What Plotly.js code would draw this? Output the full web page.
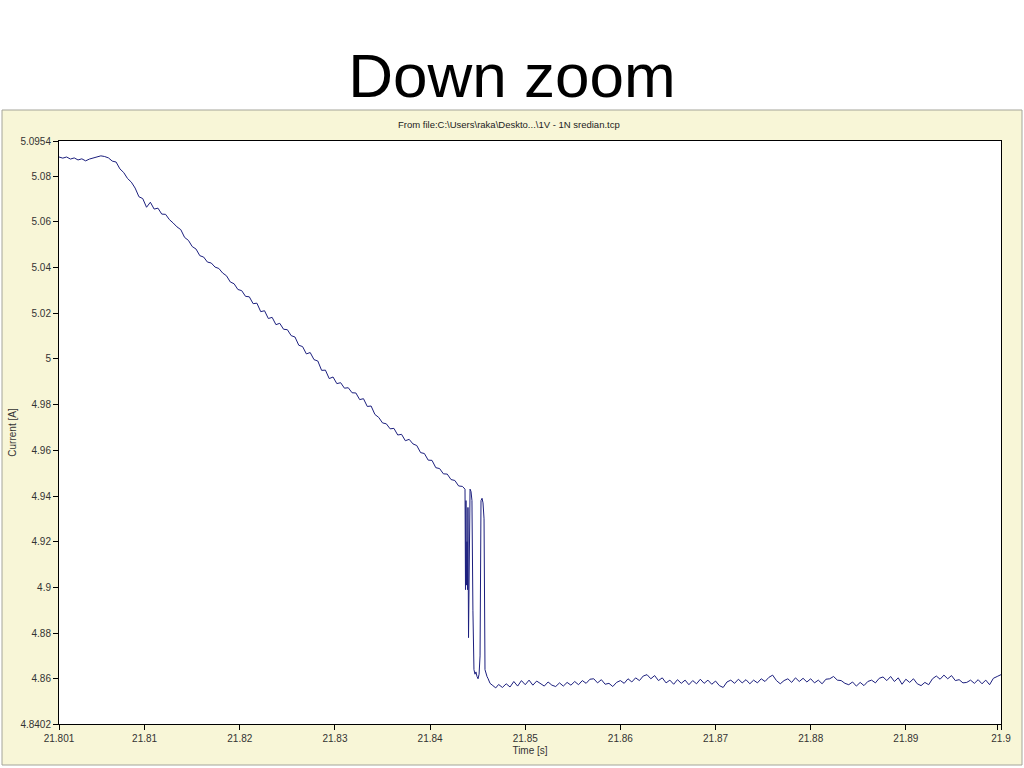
<!DOCTYPE html>
<html>
<head>
<meta charset="utf-8">
<script src="https://cdn.plot.ly/plotly-3.0.1.min.js"></script>
<style>
html,body{margin:0;padding:0;background:#fff;}
#chart{width:1024px;height:768px;}
</style>
</head>
<body>
<div id="chart"></div>
<script>
// ---- Data ----
const chartTitle = "Down zoom";
const sourceLabel = "From file:C:\\Users\\raka\\Deskto...\\1V - 1N sredian.tcp";
const xAxisLabel = "Time [s]";
const yAxisLabel = "Current [A]";

const xTickVals = [21.801, 21.81, 21.82, 21.83, 21.84, 21.85, 21.86, 21.87, 21.88, 21.89, 21.8996, 21.9];
const xTickText = ["21.801", "21.81", "21.82", "21.83", "21.84", "21.85", "21.86", "21.87", "21.88", "21.89", "", "21.9"];
const yTickVals = [4.8402, 4.86, 4.88, 4.9, 4.92, 4.94, 4.96, 4.98, 5, 5.02, 5.04, 5.06, 5.08, 5.0954];
const yTickText = ["4.8402", "4.86", "4.88", "4.9", "4.92", "4.94", "4.96", "4.98", "5", "5.02", "5.04", "5.06", "5.08", "5.0954"];

// Plateau before the drop
const timePlateau = [21.8010, 21.8014, 21.8018, 21.8022, 21.8026, 21.8030, 21.8034, 21.8038, 21.8042, 21.8046, 21.8050, 21.8054, 21.8058];
const currentPlateau = [5.0884, 5.0879, 5.0884, 5.0875, 5.0880, 5.0871, 5.0876, 5.0867, 5.0875, 5.0880, 5.0887, 5.0889, 5.0886];

// Linear-ish decline
const timeDecline = [21.8062, 21.8066, 21.8070, 21.8074, 21.8078, 21.8082, 21.8086, 21.8090, 21.8094, 21.8098,
  21.8102, 21.8106, 21.8110, 21.8114, 21.8118, 21.8122, 21.8126, 21.8130, 21.8134, 21.8138,
  21.8142, 21.8146, 21.8150, 21.8154, 21.8158, 21.8162, 21.8166, 21.8170, 21.8174, 21.8178,
  21.8182, 21.8186, 21.8190, 21.8194, 21.8198, 21.8202, 21.8206, 21.8210, 21.8214, 21.8218,
  21.8222, 21.8226, 21.8230, 21.8234, 21.8238, 21.8242, 21.8246, 21.8250, 21.8254, 21.8258,
  21.8262, 21.8266, 21.8270, 21.8274, 21.8278, 21.8282, 21.8286, 21.8290, 21.8294, 21.8298,
  21.8302, 21.8306, 21.8310, 21.8314, 21.8318, 21.8322, 21.8326, 21.8330, 21.8334, 21.8338,
  21.8342, 21.8346, 21.8350, 21.8354, 21.8358, 21.8362, 21.8366, 21.8370, 21.8374, 21.8378,
  21.8382, 21.8386, 21.8390, 21.8394, 21.8398, 21.8402, 21.8406, 21.8410, 21.8414, 21.8418,
  21.8422, 21.8426, 21.8430, 21.8434];
const currentDecline = [5.0880, 5.0866, 5.0862, 5.0832, 5.0816, 5.0790, 5.0774, 5.0748, 5.0710, 5.0702,
  5.0664, 5.0686, 5.0656, 5.0660, 5.0634, 5.0633, 5.0610, 5.0595, 5.0578, 5.0566,
  5.0532, 5.0519, 5.0492, 5.0481, 5.0452, 5.0446, 5.0424, 5.0420, 5.0402, 5.0396,
  5.0376, 5.0364, 5.0337, 5.0329, 5.0304, 5.0299, 5.0274, 5.0272, 5.0242, 5.0244,
  5.0207, 5.0211, 5.0177, 5.0182, 5.0150, 5.0156, 5.0130, 5.0128, 5.0102, 5.0096,
  5.0060, 5.0054, 5.0022, 5.0028, 4.9997, 4.9991, 4.9950, 4.9951, 4.9914, 4.9921,
  4.9892, 4.9896, 4.9872, 4.9874, 4.9852, 4.9851, 4.9822, 4.9826, 4.9792, 4.9794,
  4.9757, 4.9744, 4.9720, 4.9716, 4.9694, 4.9696, 4.9667, 4.9670, 4.9642, 4.9648,
  4.9628, 4.9621, 4.9590, 4.9586, 4.9557, 4.9556, 4.9524, 4.9520, 4.9497, 4.9496,
  4.9472, 4.9468, 4.9444, 4.9442];

// Oscillating drop
const timeDrop = [21.84367, 21.84372, 21.84377, 21.84382, 21.84388, 21.84393, 21.84398, 21.84404, 21.84409, 21.84414,
  21.84420, 21.84430, 21.84440, 21.84450, 21.84461, 21.84472, 21.84482, 21.84493, 21.84504, 21.84515,
  21.84525, 21.84535, 21.84546, 21.84556, 21.84567, 21.84577, 21.84588, 21.84598, 21.84610, 21.84630,
  21.84660, 21.84690, 21.84720];
const currentDrop = [4.9430, 4.8990, 4.9380, 4.9010, 4.9200, 4.8990, 4.9350, 4.8780, 4.9050, 4.9360,
  4.9430, 4.9420, 4.9380, 4.8900, 4.8640, 4.8620, 4.8630, 4.8610, 4.8600, 4.8620,
  4.8700, 4.9380, 4.9390, 4.9370, 4.9300, 4.8640, 4.8620, 4.8610, 4.8600, 4.8580,
  4.8570, 4.8560, 4.8575];

// Settled level after the drop
const timeSettled = [21.8476, 21.8480, 21.8484, 21.8488, 21.8492, 21.8496, 21.8500, 21.8504, 21.8508, 21.8512,
  21.8516, 21.8520, 21.8524, 21.8528, 21.8532, 21.8536, 21.8540, 21.8544, 21.8548, 21.8552,
  21.8556, 21.8560, 21.8564, 21.8568, 21.8572, 21.8576, 21.8580, 21.8584, 21.8588, 21.8592,
  21.8596, 21.8600, 21.8604, 21.8608, 21.8612, 21.8616, 21.8620, 21.8624, 21.8628, 21.8632,
  21.8636, 21.8640, 21.8644, 21.8648, 21.8652, 21.8656, 21.8660, 21.8664, 21.8668, 21.8672,
  21.8676, 21.8680, 21.8684, 21.8688, 21.8692, 21.8696, 21.8700, 21.8704, 21.8708, 21.8712,
  21.8716, 21.8720, 21.8724, 21.8728, 21.8732, 21.8736, 21.8740, 21.8744, 21.8748, 21.8752,
  21.8756, 21.8760, 21.8764, 21.8768, 21.8772, 21.8776, 21.8780, 21.8784, 21.8788, 21.8792,
  21.8796, 21.8800, 21.8804, 21.8808, 21.8812, 21.8816, 21.8820, 21.8824, 21.8828, 21.8832,
  21.8836, 21.8840, 21.8844, 21.8848, 21.8852, 21.8856, 21.8860, 21.8864, 21.8868, 21.8872,
  21.8876, 21.8880, 21.8884, 21.8888, 21.8892, 21.8896, 21.8900, 21.8904, 21.8908, 21.8912,
  21.8916, 21.8920, 21.8924, 21.8928, 21.8932, 21.8936, 21.8940, 21.8944, 21.8948, 21.8952,
  21.8956, 21.8960, 21.8964, 21.8968, 21.8972, 21.8976, 21.8980, 21.8984, 21.8988, 21.8992,
  21.8996, 21.9000];
const currentSettled = [4.8562, 4.8578, 4.8564, 4.8588, 4.8568, 4.8592, 4.8574, 4.8594, 4.8572, 4.8590,
  4.8578, 4.8568, 4.8586, 4.8572, 4.8566, 4.8582, 4.8568, 4.8584, 4.8572, 4.8588,
  4.8574, 4.8592, 4.8580, 4.8598, 4.8600, 4.8582, 4.8596, 4.8576, 4.8580, 4.8566,
  4.8584, 4.8592, 4.8580, 4.8600, 4.8586, 4.8604, 4.8592, 4.8612, 4.8618, 4.8600,
  4.8614, 4.8592, 4.8604, 4.8582, 4.8594, 4.8576, 4.8596, 4.8580, 4.8594, 4.8574,
  4.8592, 4.8578, 4.8598, 4.8580, 4.8594, 4.8576, 4.8590, 4.8570, 4.8562, 4.8586,
  4.8594, 4.8580, 4.8598, 4.8582, 4.8596, 4.8578, 4.8594, 4.8582, 4.8600, 4.8588,
  4.8606, 4.8616, 4.8592, 4.8578, 4.8592, 4.8600, 4.8584, 4.8604, 4.8588, 4.8602,
  4.8586, 4.8600, 4.8582, 4.8594, 4.8578, 4.8598, 4.8600, 4.8610, 4.8594, 4.8592,
  4.8580, 4.8574, 4.8586, 4.8568, 4.8584, 4.8570, 4.8588, 4.8594, 4.8582, 4.8602,
  4.8608, 4.8592, 4.8610, 4.8588, 4.8604, 4.8576, 4.8598, 4.8584, 4.8600, 4.8578,
  4.8570, 4.8584, 4.8574, 4.8600, 4.8612, 4.8598, 4.8616, 4.8600, 4.8614, 4.8592,
  4.8596, 4.8582, 4.8584, 4.8594, 4.8580, 4.8596, 4.8578, 4.8594, 4.8574, 4.8602,
  4.8610, 4.8618];

// ---- Build the series ----
const time = [].concat(timePlateau, timeDecline, timeDrop, timeSettled);
const current = [].concat(currentPlateau, currentDecline, currentDrop, currentSettled);

const font = "Liberation Sans, Arial, sans-serif";
const trace = {
  x: time, y: current, type: "scatter", mode: "lines",
  line: {color: "#1c1f7e", width: 1},
  hoverinfo: "x+y"
};

// panel geometry (paper coords, plot area = 59..1001 x, 141..724 y px)
const L = 59, R = 1001, T = 141, B = 724;
const W = R - L, H = B - T;
const px = v => (v - L) / W;
const py = v => (B - v) / H;

const layout = {
  width: 1024, height: 768,
  margin: {l: L, r: 1024 - R, t: T, b: 768 - B, pad: 0},
  paper_bgcolor: "#ffffff",
  plot_bgcolor: "rgba(0,0,0,0)",
  showlegend: false,
  title: {
    text: chartTitle,
    font: {family: font, size: 62, color: "#000000"},
    x: 0.5, xanchor: "center", xref: "container",
    y: 1 - 75 / 768, yanchor: "middle", yref: "container"
  },
  xaxis: {
    range: [21.801, 21.9], fixedrange: true,
    tickvals: xTickVals, ticktext: xTickText,
    ticks: "outside", ticklen: 5, tickcolor: "#000", tickwidth: 1,
    showline: true, linecolor: "#000", linewidth: 1, mirror: true,
    showgrid: false, zeroline: false,
    tickfont: {family: font, size: 10, color: "#333"},
    title: {text: xAxisLabel, font: {family: font, size: 10, color: "#333"}, standoff: 3}
  },
  yaxis: {
    range: [4.8402, 5.0954], fixedrange: true,
    tickvals: yTickVals, ticktext: yTickText,
    ticks: "outside", ticklen: 5, tickcolor: "#000", tickwidth: 1,
    showline: true, linecolor: "#000", linewidth: 1, mirror: true,
    showgrid: false, zeroline: false,
    tickfont: {family: font, size: 10, color: "#333"},
    title: {text: yAxisLabel, font: {family: font, size: 10, color: "#333"}, standoff: 1}
  },
  shapes: [
    {type: "rect", xref: "paper", yref: "paper", layer: "below",
     x0: px(2), x1: px(1022), y0: py(765), y1: py(110),
     fillcolor: "#f8f6d7", line: {color: "#a4a49a", width: 1}},
    {type: "rect", xref: "paper", yref: "paper", layer: "below",
     x0: 0, x1: 1, y0: 0, y1: 1,
     fillcolor: "#ffffff", line: {width: 0}}
  ],
  annotations: [
    {text: sourceLabel, xref: "paper", yref: "paper", x: px(509), y: py(124),
     xanchor: "center", yanchor: "middle", showarrow: false,
     font: {family: font, size: 9.5, color: "#222"}}
  ]
};

Plotly.newPlot("chart", [trace], layout, {staticPlot: true, displayModeBar: false});
</script>
</body>
</html>
